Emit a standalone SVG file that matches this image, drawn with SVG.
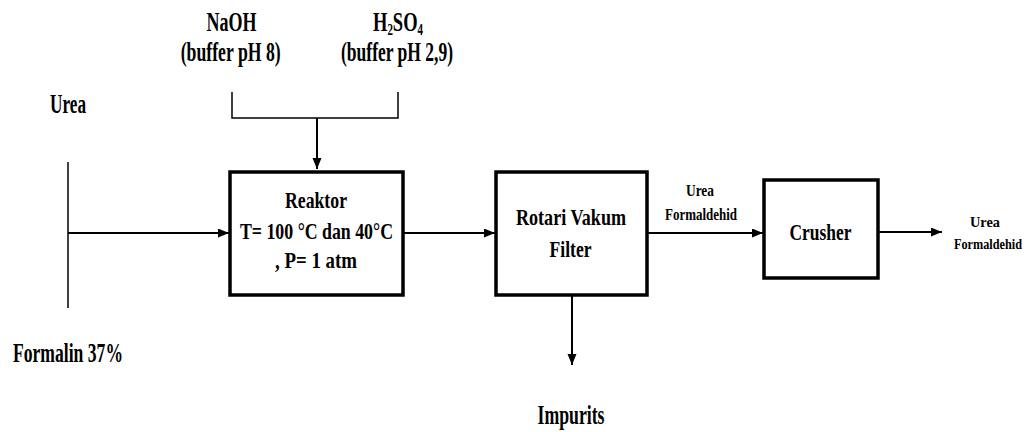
<svg xmlns="http://www.w3.org/2000/svg" width="1031" height="432" viewBox="0 0 1031 432">
<style>
text{font-family:"Liberation Serif","Times New Roman",serif;font-weight:bold;fill:#000;text-anchor:middle}
.big{font-size:27px}
.box{font-size:24px}
.sm{font-size:16px}
.sm2{font-size:14px}
.sub{font-size:16px}
.node{fill:#fff;stroke:#000;stroke-width:3.5}
.ln{stroke:#000;stroke-width:2;fill:none}
.thin{stroke:#000;stroke-width:1.5;fill:none}
</style>
<defs>
<marker id="arr" markerUnits="userSpaceOnUse" markerWidth="12" markerHeight="10" refX="11" refY="4.5" orient="auto">
<path d="M0,0 L11,4.5 L0,9 z" fill="#000"/>
</marker>
</defs>
<rect width="1031" height="432" fill="#fff"/>
<g id="connectors">
<line class="thin" x1="68" y1="162" x2="68" y2="308"/>
<line class="ln" x1="68" y1="233" x2="229" y2="233" marker-end="url(#arr)"/>
<polyline class="thin" points="232,92 232,118 398,118 398,92"/>
<line class="ln" x1="317" y1="118" x2="317" y2="169" marker-end="url(#arr)"/>
<line class="ln" x1="403" y1="233" x2="495" y2="233" marker-end="url(#arr)"/>
<line class="ln" x1="647" y1="233" x2="763" y2="233" marker-end="url(#arr)"/>
<line class="ln" x1="878" y1="232" x2="942" y2="232" marker-end="url(#arr)"/>
<line class="ln" x1="572" y1="295" x2="572" y2="365" marker-end="url(#arr)"/>
</g>
<g id="reaktor">
<rect class="node" x="230" y="172" width="173" height="123"/>
<text class="box" x="316" y="208" textLength="62" lengthAdjust="spacingAndGlyphs">Reaktor</text>
<text class="box" x="316.5" y="239" textLength="153" lengthAdjust="spacingAndGlyphs">T= 100 °C dan 40°C</text>
<text class="box" x="316" y="268" textLength="82" lengthAdjust="spacingAndGlyphs">, P= 1 atm</text>
</g>
<g id="filter">
<rect class="node" x="496" y="172" width="151" height="123"/>
<text class="box" x="571" y="225" textLength="110" lengthAdjust="spacingAndGlyphs">Rotari Vakum</text>
<text class="box" x="570.5" y="257" textLength="42" lengthAdjust="spacingAndGlyphs">Filter</text>
</g>
<g id="crusher">
<rect class="node" x="764" y="180" width="114" height="98"/>
<text class="box" x="820.5" y="240" textLength="62" lengthAdjust="spacingAndGlyphs">Crusher</text>
</g>
<g id="labels">
<text class="big" x="231.5" y="31" textLength="50" lengthAdjust="spacingAndGlyphs">NaOH</text>
<text class="big" x="230.7" y="61" textLength="100" lengthAdjust="spacingAndGlyphs">(buffer pH 8)</text>
<text class="big" x="398" y="31" textLength="50" lengthAdjust="spacingAndGlyphs">H<tspan class="sub" baseline-shift="-4">2</tspan>SO<tspan class="sub" baseline-shift="-4">4</tspan></text>
<text class="big" x="397" y="61" textLength="112" lengthAdjust="spacingAndGlyphs">(buffer pH 2,9)</text>
<text class="big" x="68" y="113" textLength="36" lengthAdjust="spacingAndGlyphs">Urea</text>
<text class="big" x="68" y="362" textLength="110" lengthAdjust="spacingAndGlyphs">Formalin 37%</text>
<text class="big" x="571" y="424" textLength="67" lengthAdjust="spacingAndGlyphs">Impurits</text>
<text class="sm" x="700" y="196" textLength="28" lengthAdjust="spacingAndGlyphs">Urea</text>
<text class="sm" x="701" y="220" textLength="72" lengthAdjust="spacingAndGlyphs">Formaldehid</text>
<text class="sm2" x="985" y="227" textLength="30" lengthAdjust="spacingAndGlyphs">Urea</text>
<text class="sm2" x="988" y="249" textLength="68" lengthAdjust="spacingAndGlyphs">Formaldehid</text>
</g>
</svg>
